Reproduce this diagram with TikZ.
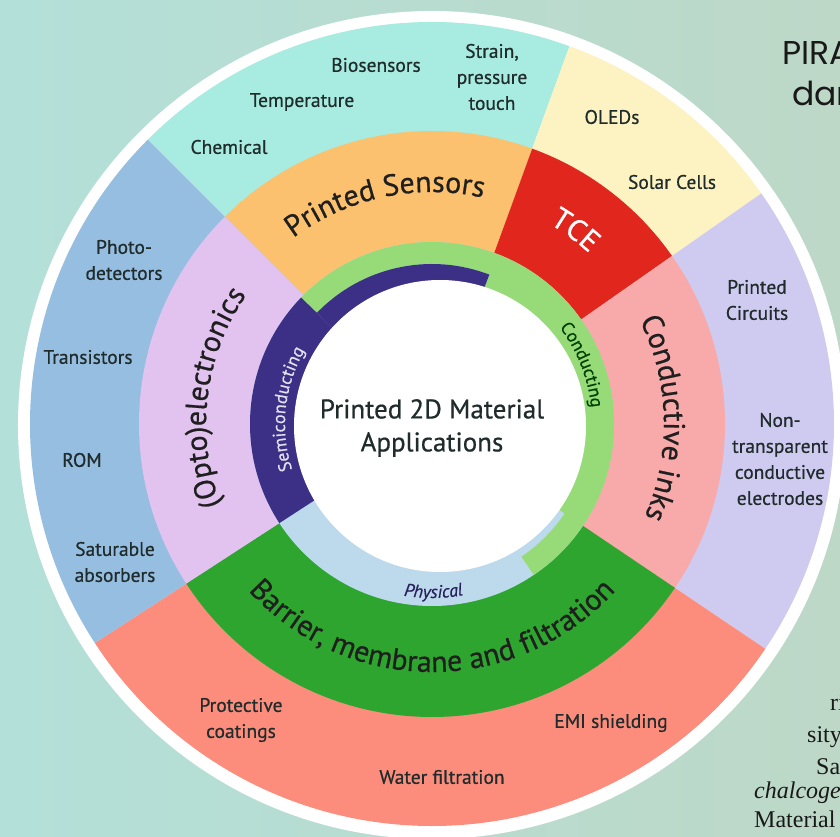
\documentclass[tikz,border=0pt]{standalone}
\usepackage{fontspec}
\setmainfont{PT Sans}[FakeBold=0.6]
\newfontfamily\headfont{Poppins}
\newfontfamily\pagefont{Liberation Serif}
\usetikzlibrary{decorations.text}

\definecolor{bgleft}{HTML}{B3E0D9}
\definecolor{bgright}{HTML}{BDD8C7}
\definecolor{sensout}{HTML}{A8EBE0}
\definecolor{oledout}{HTML}{FDF3C2}
\definecolor{inkout}{HTML}{CFCBF0}
\definecolor{barout}{HTML}{FC8C7C}
\definecolor{optout}{HTML}{95BEE0}
\definecolor{sensmid}{HTML}{FBC16E}
\definecolor{tcemid}{HTML}{E1261E}
\definecolor{inkmid}{HTML}{F8A9A9}
\definecolor{barmid}{HTML}{2EA52E}
\definecolor{optmid}{HTML}{E2C3F0}
\definecolor{semi}{HTML}{3B2F86}
\definecolor{cond}{HTML}{96DB78}
\definecolor{phys}{HTML}{BDD9EC}
\definecolor{labeltext}{HTML}{202C2C}

\begin{document}
\begin{tikzpicture}[x=1pt,y=1pt,
  lbl/.style={align=center,text=labeltext,inner sep=0,font=\fontsize{19.5}{26}\selectfont},
  fragment/.style={anchor=base west,inner sep=0,text=black!90,font=\pagefont\fontsize{24}{28}\selectfont}]
\useasboundingbox (-432,-413) rectangle (408,424);
\clip (-432,-413) rectangle (408,424);
\shade[left color=bgleft,right color=bgright] (-432,-413) rectangle (408,424);
\fill[white] (0,-1) circle[radius=414];

\fill[sensout] (0,0) -- (135:402) arc[start angle=135,end angle=70,radius=402] -- cycle;
\fill[oledout] (0,0) -- (70:402) arc[start angle=70,end angle=35,radius=402] -- cycle;
\fill[inkout] (0,0) -- (35:402) arc[start angle=35,end angle=-34,radius=402] -- cycle;
\fill[barout] (0,0) -- (-34:402) arc[start angle=-34,end angle=-147,radius=402] -- cycle;
\fill[optout] (0,0) -- (213:402) arc[start angle=213,end angle=135,radius=402] -- cycle;

\fill[sensmid] (0,0) -- (135:293) arc[start angle=135,end angle=70,radius=293] -- cycle;
\fill[tcemid] (0,0) -- (70:293) arc[start angle=70,end angle=35,radius=293] -- cycle;
\fill[inkmid] (0,0) -- (35:293) arc[start angle=35,end angle=-34,radius=293] -- cycle;
\fill[barmid] (0,0) -- (-34:293) arc[start angle=-34,end angle=-147,radius=293] -- cycle;
\fill[optmid] (0,0) -- (213:293) arc[start angle=213,end angle=135,radius=293] -- cycle;

\fill[phys] (0,0) circle[radius=182];
\fill[cond] (-56:182) arc[start angle=-56,end angle=136,radius=182] -- (136:160) arc[start angle=136,end angle=-56,radius=160] -- cycle;
\fill[cond] (0,0) -- (-34:182) arc[start angle=-34,end angle=69,radius=182] -- cycle;
\fill[semi] (0,0) -- (136:182) arc[start angle=136,end angle=213,radius=182] -- cycle;
\fill[semi] (0,0) -- (69:160) arc[start angle=69,end angle=136,radius=160] -- cycle;
\fill[white] (8,-2) circle[radius=146];

\path[decorate,decoration={text along path,text align=center,text color=black!88,
  text={|\fontsize{30}{34}\selectfont|Printed Sensors}}] (152:232) arc[start angle=152,end angle=52,radius=232];
\path[decorate,decoration={text along path,text align=center,text color=white,
  text={|\fontsize{30}{34}\selectfont|TCE}}] (75:232) arc[start angle=75,end angle=32,radius=232];
\path[decorate,decoration={text along path,text align=center,text color=black!88,
  text={|\fontsize{30}{34}\selectfont|Conductive inks}}] (40:232) arc[start angle=40,end angle=-37,radius=232];
\path[decorate,decoration={text along path,text align=center,text color=black!88,
  text={|\fontsize{30}{34}\selectfont|(Opto)electronics}}] (213:226) arc[start angle=213,end angle=133,radius=226];
\path[decorate,decoration={text along path,text align=center,text color=black!88,
  text={|\fontsize{30}{34}\selectfont|Barrier{,} membrane and filtration}}] (215:248) arc[start angle=215,end angle=325,radius=248];

\path[decorate,decoration={text along path,text align=center,text color=white!85!semi,
  text={|\fontsize{18}{22}\selectfont|Semiconducting}}] (205:147) arc[start angle=205,end angle=143,radius=147];
\path[decorate,decoration={text along path,text align=center,text color=green!25!black,
  text={|\fontsize{18}{22}\selectfont|Conducting}}] (50:160) arc[start angle=50,end angle=-7,radius=160];
\path[decorate,decoration={text along path,text align=center,text color=semi!70!black,
  text={|\fontsize{18}{22}\selectfont\itshape|Physical}}] (240:174) arc[start angle=240,end angle=301,radius=174];

\node[align=center,text=labeltext,font=\fontsize{27}{33}\selectfont] (core) at (0,-4) {Printed 2D Material\\Applications};

\node[lbl] (bio) at (-56,359) {Biosensors};
\node[lbl] (temp) at (-130,322) {Temperature};
\node[lbl] (chem) at (-203,277) {Chemical};
\node[lbl] (strain) at (60,347) {Strain,\\pressure\\touch};
\node[lbl] (oled) at (180,307) {OLEDs};
\node[lbl] (solar) at (240,242) {Solar Cells};
\node[lbl] (circ) at (325,124) {Printed\\Circuits};
\node[lbl] (elec) at (348,-35) {Non-\\transparent\\conductive\\electrodes};
\node[lbl] (photo) at (-308,164) {Photo-\\detectors};
\node[lbl] (trans) at (-344,67) {Transistors};
\node[lbl] (rom) at (-350,-36) {ROM};
\node[lbl] (satabs) at (-317,-138) {Saturable\\absorbers};
\node[lbl] (coat) at (-191,-296) {Protective\\coatings};
\node[lbl] (water) at (10,-353) {Water filtration};
\node[lbl] (emi) at (179,-299) {EMI shielding};

\node[anchor=base west,inner sep=0,text=black!90,font=\headfont\fontsize{33}{40}\selectfont] (pira) at (350,359) {PIRA};
\node[anchor=base west,inner sep=0,text=black!90,font=\headfont\fontsize{33}{40}\selectfont] (dar) at (360,318) {dar};

\node[fragment] (fr1) at (398,-286) {ri};
\node[fragment] (fr2) at (375,-318) {sity};
\node[fragment] (fr3) at (384,-350) {Sa};
\node[fragment,font=\pagefont\itshape\fontsize{24}{28}\selectfont] (fr4) at (322,-374) {chalcoge};
\node[fragment] (fr5) at (322,-403) {Material};
\end{tikzpicture}
\end{document}
